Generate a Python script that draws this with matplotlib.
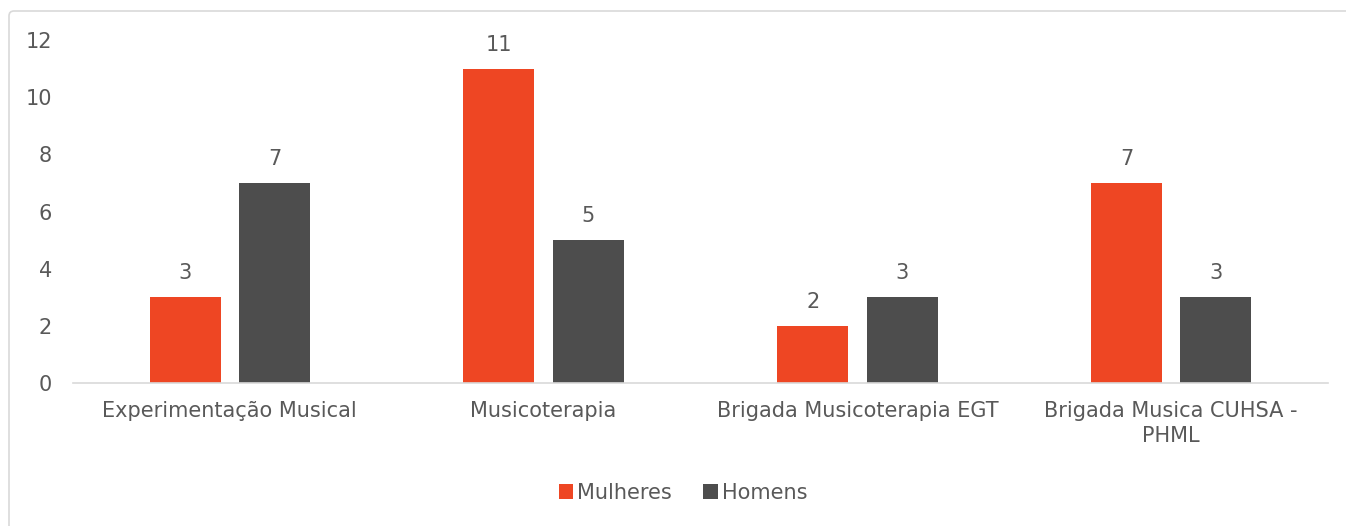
import matplotlib
matplotlib.use("Agg")
import matplotlib.pyplot as plt
import numpy as np
from matplotlib.path import Path
from matplotlib.patches import PathPatch

categories = ["Experimentação Musical", "Musicoterapia", "Brigada Musicoterapia EGT", "Brigada Musica CUHSA -\nPHML"]
mulheres = [3, 11, 2, 7]
homens = [7, 5, 3, 3]
series_names = ["Mulheres", "Homens"]
yticks = [0, 2, 4, 6, 8, 10, 12]

c_orange = "#EE4623"
c_gray = "#4D4D4D"
c_text = "#595959"

W, H = 1346, 526
fig = plt.figure(figsize=(W/100, H/100), dpi=100)
plt.rcParams['font.family'] = ['DejaVu Sans']
fs = 15

# border: left and top edges with a small rounded corner (pixel coordinates, y from top)
L, T, R = 9, 11, 5
pts = [(L, H + 5), (L, T + R), (L, T), (L + R, T), (W + 5, T)]
codes = [Path.MOVETO, Path.LINETO, Path.CURVE3, Path.CURVE3, Path.LINETO]
pts_fig = [(px / W, 1 - py / H) for px, py in pts]
fig.patches.append(PathPatch(Path(pts_fig, codes), transform=fig.transFigure,
                             fill=False, edgecolor="#D9D9D9", linewidth=1.2))

ax = fig.add_axes([73/W, 1-383/H, (1328-73)/W, (383-40)/H])
x = np.arange(len(categories))
off = 0.1425
bw = 0.226
b1 = ax.bar(x - off, mulheres, bw, color=c_orange, label=series_names[0])
b2 = ax.bar(x + off, homens, bw, color=c_gray, label=series_names[1])
for bars, vals in ((b1, mulheres), (b2, homens)):
    for r, v in zip(bars, vals):
        ax.annotate(str(v), (r.get_x() + r.get_width()/2, v), xytext=(0, 10),
                    textcoords="offset points", ha="center", va="bottom",
                    fontsize=fs, color=c_text)

ax.set_xlim(-0.5, 3.5)
ax.set_ylim(0, 12)
ax.set_yticks(yticks)
ax.set_yticklabels([str(t) for t in yticks], fontsize=fs, color=c_text)
ax.set_xticks(x)
ax.set_xticklabels(categories, fontsize=fs, color=c_text, linespacing=1.3)
ax.tick_params(axis='both', length=0)
ax.tick_params(axis='x', pad=13)
ax.tick_params(axis='y', pad=15)
for s in ["top", "right", "left"]:
    ax.spines[s].set_visible(False)
ax.spines["bottom"].set_color("#D9D9D9")
ax.spines["bottom"].set_linewidth(1.2)

fig.legend(handles=[b1, b2], labels=series_names, loc="center",
           bbox_to_anchor=(683/W, 1-493/H), ncol=2, frameon=False,
           fontsize=fs, labelcolor=c_text, handlelength=0.7, handleheight=0.7,
           handletextpad=0.2, columnspacing=1.5)

fig.savefig("out.png", dpi=100)
